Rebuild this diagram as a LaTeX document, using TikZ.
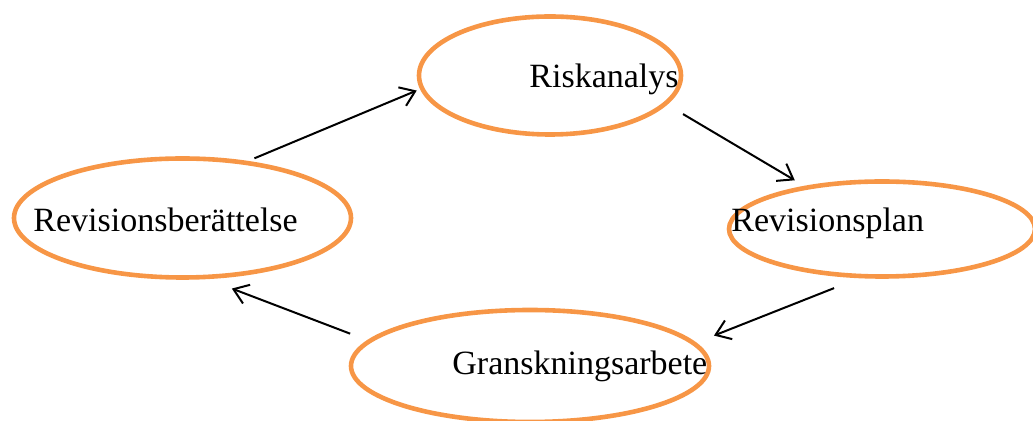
\documentclass[tikz,border=0pt]{standalone}
\usepackage{fontspec}
\setmainfont{Liberation Serif}
\usetikzlibrary{shapes.geometric,arrows.meta}
\definecolor{ringorange}{HTML}{F79646}
\begin{document}
\begin{tikzpicture}[x=0.5pt, y=-0.5pt,
    ring/.style={ellipse, draw=ringorange, line width=2.3pt, inner sep=0pt},
    word/.style={anchor=base west, inner sep=0pt, font=\fontsize{17}{20}\selectfont},
    flow/.style={line width=1pt, -{Straight Barb[length=7pt, width=10pt]}}]
    \useasboundingbox (0,0) rectangle (1033,421);
    \node[ring, minimum width=131pt, minimum height=59pt] (risk) at (550,75.5) {};
    \node[ring, minimum width=168.5pt, minimum height=59.5pt] (bert) at (182.5,218) {};
    \node[ring, minimum width=153pt, minimum height=47.5pt] (plan) at (882,229) {};
    \node[ring, minimum width=179pt, minimum height=56pt] (gran) at (530,366) {};
    \node[word] (riskt) at (529,88) {Riskanalys};
    \node[word] (bertt) at (33,232) {Revisionsberättelse};
    \node[word] (plant) at (731,232) {Revisionsplan};
    \node[word] (grant) at (452,375) {Granskningsarbete};
    \draw[flow, shorten <=3.4pt, shorten >=1.8pt] (bert.41.3) -- (risk.186.7);
    \draw[flow, shorten <=9.2pt, shorten >=5.5pt] (risk.-14.1) -- (plan.151.7);
    \draw[flow, shorten <=13.4pt, shorten >=9.6pt] (plan.245.6) -- (gran.8.8);
    \draw[flow, shorten <=9.2pt, shorten >=13.2pt] (gran.171.1) -- (bert.-68.4);
\end{tikzpicture}
\end{document}
